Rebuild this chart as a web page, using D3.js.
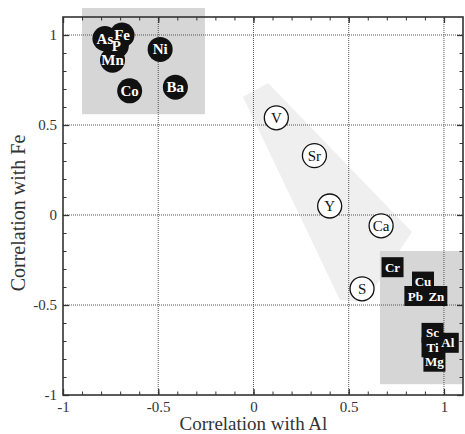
<!DOCTYPE html>
<html>
<head>
<meta charset="utf-8">
<script src="https://cdn.jsdelivr.net/npm/d3@7"></script>
<style>
body { margin: 0; background: #fff; }
</style>
</head>
<body>
<script>
var width = 465,
    height = 434;
var serif = "Liberation Serif, Times New Roman, Times, DejaVu Serif, serif";

// elements: [name, correlation with Al, correlation with Fe]
var filledCircles = [
    ["As", -0.78, 0.98],
    ["Fe", -0.69, 1.00],
    ["P", -0.72, 0.94],
    ["Mn", -0.74, 0.86],
    ["Ni", -0.49, 0.92],
    ["Co", -0.65, 0.69],
    ["Ba", -0.41, 0.71]
];
var openCircles = [
    ["V", 0.12, 0.54],
    ["Sr", 0.32, 0.33],
    ["Y", 0.40, 0.05],
    ["Ca", 0.67, -0.06],
    ["S", 0.57, -0.41]
];
var squares = [
    ["Cr", 0.73, -0.29],
    ["Cu", 0.89, -0.37],
    ["Pb", 0.85, -0.45],
    ["Zn", 0.96, -0.45],
    ["Sc", 0.94, -0.655],
    ["Al", 1.02, -0.71],
    ["Ti", 0.94, -0.735],
    ["Mg", 0.95, -0.815]
];

// shaded groupings, in data units: [x0, x1, y0, y1]
var groupBoxes = [
    [-0.90, -0.255, 0.56, 1.15],
    [0.664, 1.095, -0.94, -0.20]
];
var bandPoly = [[-0.055, 0.655], [0.076, 0.733], [0.832, -0.094], [0.585, -0.483], [0.454, -0.472]];

var majorTicks = [-1, -0.5, 0, 0.5, 1];
var minorTicks = d3.range(-10, 11).map(function (d) { return d / 10; });
var tickLabels = ["-1", "-0.5", "0", "0.5", "1"];

var x = d3.scaleLinear().domain([-1, 1.1]).range([63, 463]);
var y = d3.scaleLinear().domain([-1, 1.1]).range([395, 17]);

var svg = d3.select("body").append("svg")
    .attr("width", width)
    .attr("height", height);

// shaded areas
svg.append("path")
    .attr("d", d3.line().x(function (d) { return x(d[0]); }).y(function (d) { return y(d[1]); })(bandPoly) + "Z")
    .attr("fill", "#efefef");

svg.selectAll(".box")
    .data(groupBoxes)
    .enter().append("rect")
    .attr("class", "box")
    .attr("x", function (d) { return x(d[0]); })
    .attr("y", function (d) { return y(d[3]); })
    .attr("width", function (d) { return x(d[1]) - x(d[0]); })
    .attr("height", function (d) { return y(d[2]) - y(d[3]); })
    .attr("fill", "#d6d6d6");

// dotted grid
var grid = svg.append("g")
    .attr("stroke", "#555")
    .attr("stroke-width", 1)
    .attr("stroke-dasharray", "1,1");
grid.selectAll(".gx")
    .data(majorTicks.slice(1))
    .enter().append("line")
    .attr("x1", function (d) { return x(d); })
    .attr("x2", function (d) { return x(d); })
    .attr("y1", y(-1)).attr("y2", y(1.1));
grid.selectAll(".gy")
    .data(majorTicks.slice(1))
    .enter().append("line")
    .attr("y1", function (d) { return y(d); })
    .attr("y2", function (d) { return y(d); })
    .attr("x1", x(-1)).attr("x2", x(1.1));

// axes, ticks pointing inward on all sides
function fmt(d) { return tickLabels[majorTicks.indexOf(d)]; }

var axes = [
    [d3.axisBottom(x), "translate(0," + y(-1) + ")", true, 6],
    [d3.axisTop(x), "translate(0," + y(1.1) + ")", false, 6],
    [d3.axisLeft(y), "translate(" + x(-1) + ",0)", true, 6],
    [d3.axisRight(y), "translate(" + x(1.1) + ",0)", false, 6]
];
axes.forEach(function (a) {
    svg.append("g")
        .attr("transform", a[1])
        .call(a[0].tickValues(minorTicks).tickSize(-3.5).tickFormat(""))
        .call(function (g) { g.select(".domain").remove(); g.selectAll("line").attr("stroke", "#333"); });
    svg.append("g")
        .attr("transform", a[1])
        .call(a[0].tickValues(majorTicks).tickSize(-6).tickPadding(a[3]).tickFormat(a[2] ? fmt : ""))
        .call(function (g) {
            g.select(".domain").remove();
            g.selectAll("line").attr("stroke", "#333").attr("stroke-width", 1.3);
            g.selectAll("text").attr("fill", "#333")
                .style("font-family", serif).style("font-size", "15px");
        });
});

// frame
svg.append("rect")
    .attr("x", x(-1)).attr("y", y(1.1))
    .attr("width", x(1.1) - x(-1))
    .attr("height", y(-1) - y(1.1))
    .attr("fill", "none")
    .attr("stroke", "#333")
    .attr("stroke-width", 1.6);

// axis titles
svg.append("text")
    .attr("x", x(0))
    .attr("y", 430)
    .attr("text-anchor", "middle")
    .style("font-family", serif)
    .style("font-size", "19px")
    .attr("fill", "#333")
    .text("Correlation with Al");

svg.append("text")
    .attr("transform", "translate(25," + 213 + ") rotate(-90)")
    .attr("text-anchor", "middle")
    .style("font-family", serif)
    .style("font-size", "20px")
    .attr("fill", "#333")
    .text("Correlation with Fe");

// points
svg.selectAll(".filled")
    .data(filledCircles)
    .enter().append("circle")
    .attr("cx", function (d) { return x(d[1]); })
    .attr("cy", function (d) { return y(d[2]); })
    .attr("r", 12.5)
    .attr("fill", "#111");
svg.selectAll(".filledLabel")
    .data(filledCircles)
    .enter().append("text")
    .attr("x", function (d) { return x(d[1]); })
    .attr("y", function (d) { return y(d[2]) + 5; })
    .attr("text-anchor", "middle")
    .style("font-family", serif)
    .style("font-size", "15px")
    .style("font-weight", "bold")
    .attr("fill", "#fff")
    .text(function (d) { return d[0]; });

var open = svg.selectAll(".open")
    .data(openCircles)
    .enter().append("g")
    .attr("transform", function (d) { return "translate(" + x(d[1]) + "," + y(d[2]) + ")"; });
open.append("circle").attr("r", 12).attr("fill", "#fff").attr("stroke", "#111").attr("stroke-width", 1.3);
open.append("text")
    .attr("y", 5)
    .attr("text-anchor", "middle")
    .style("font-family", serif)
    .style("font-size", "15px")
    .attr("fill", "#111")
    .text(function (d) { return d[0]; });

svg.selectAll(".sq")
    .data(squares)
    .enter().append("rect")
    .attr("x", function (d) { return x(d[1]) - 11; })
    .attr("y", function (d) { return y(d[2]) - 10; })
    .attr("width", 22)
    .attr("height", 20)
    .attr("fill", "#111");
svg.selectAll(".sqLabel")
    .data(squares)
    .enter().append("text")
    .attr("x", function (d) { return x(d[1]); })
    .attr("y", function (d) { return y(d[2]) + 4.5; })
    .attr("text-anchor", "middle")
    .style("font-family", serif)
    .style("font-size", "13px")
    .style("font-weight", "bold")
    .attr("fill", "#fff")
    .text(function (d) { return d[0]; });
</script>
</body>
</html>
